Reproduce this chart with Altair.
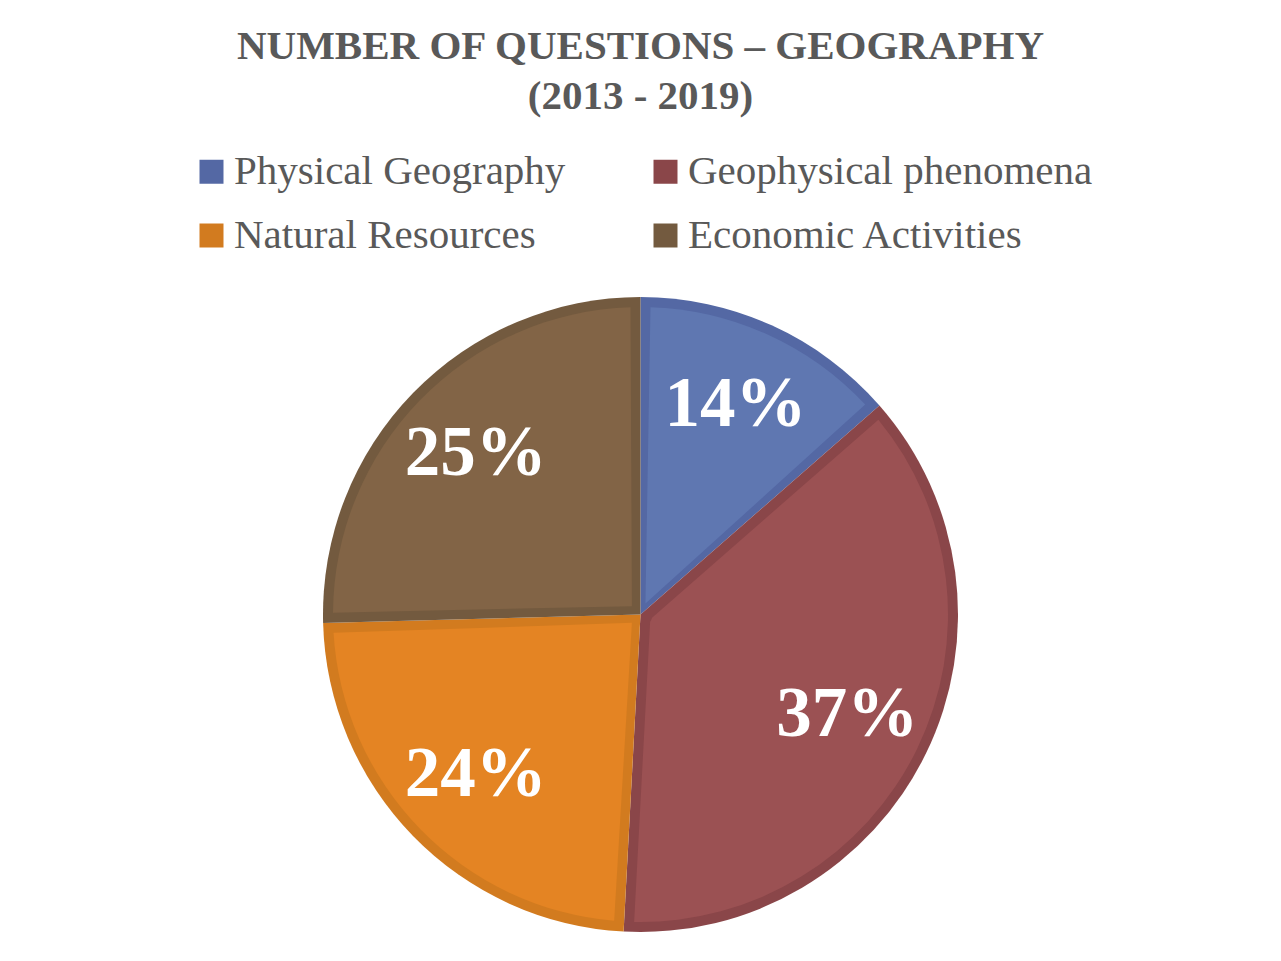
import altair as alt
import pandas as pd

categories = ["Physical Geography", "Geophysical phenomena", "Natural Resources", "Economic Activities"]
counts = [8, 22, 14, 15]
fill_colors = ["#5F77B1", "#9B5153", "#E48423", "#826446"]
edge_colors = ["#5468A4", "#8A4649", "#D27B1F", "#735A3F"]
title_lines = ["NUMBER OF QUESTIONS – GEOGRAPHY", "(2013 - 2019)"]

total = sum(counts)
df = pd.DataFrame({
    "category": categories,
    "count": counts,
    "order": list(range(len(categories))),
    "label": [f"{round(c * 100 / total)}%" for c in counts],
})

FONT = "Liberation Serif"
CX, CY = 632.5, 466.5
R = 317.5
BORDER = 10
R_IN = 12
PAD = 2 * BORDER / ((R - BORDER) ** 2 + R_IN ** 2) ** 0.5

base = alt.Chart(df).encode(
    theta=alt.Theta("count:Q", stack=True),
    order=alt.Order("order:Q"),
    x=alt.value(CX),
    y=alt.value(CY),
)

dark = base.mark_arc(outerRadius=R, innerRadius=0).encode(
    color=alt.Color(
        "category:N",
        scale=alt.Scale(domain=categories, range=edge_colors),
        legend=alt.Legend(
            title=None, orient="none", legendX=183, legendY=3,
            direction="horizontal", columns=2, columnPadding=79, rowPadding=22, padding=0,
            symbolType="square", symbolSize=576, symbolStrokeWidth=0,
            labelFont=FONT, labelFontSize=41, labelColor="#595959",
            labelOffset=2, labelLimit=0,
        ),
    )
)

light = base.mark_arc(outerRadius=R - BORDER, innerRadius=R_IN, padAngle=PAD).encode(
    color=alt.Color("category:N", scale=alt.Scale(domain=categories, range=fill_colors), legend=None)
)

labels = base.mark_text(
    radius=230, font=FONT, fontSize=71, fontWeight="bold", color="white",
    align="center", baseline="middle",
).encode(text="label:N", detail="category:N")

chart = alt.layer(dark, light, labels).resolve_scale(color="independent").properties(
    width=1265,
    height=805,
    padding={"top": 140, "left": 0, "right": 0, "bottom": 0},
    autosize=alt.AutoSizeParams(type="none"),
    title=alt.Title(
        text=title_lines, font=FONT, fontSize=41, fontWeight="bold", color="#595959",
        anchor="middle", lineHeight=50, offset=30,
    ),
).configure_view(stroke=None)

chart.save("out.html", embed_options={"renderer": "svg", "actions": False})
